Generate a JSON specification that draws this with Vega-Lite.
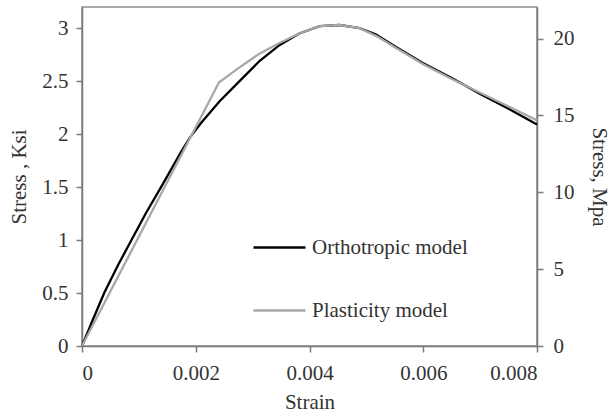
{
  "$schema": "https://vega.github.io/schema/vega-lite/v6.json",
  "width": 455,
  "height": 339,
  "autosize": "none",
  "padding": {"left": 82, "top": 7, "right": 76, "bottom": 69},
  "background": "white",
  "config": {
    "view": {"stroke": "#8c8c8c", "strokeWidth": 1.5},
    "font": "Liberation Serif",
    "axis": {
      "grid": false,
      "domainColor": "#7a7a7a",
      "domainWidth": 1.5,
      "tickColor": "#7a7a7a",
      "tickWidth": 1.5,
      "tickSize": 6,
      "labelFont": "Liberation Serif",
      "labelFontSize": 21,
      "labelColor": "#333",
      "titleFont": "Liberation Serif",
      "titleFontSize": 21,
      "titleFontWeight": "normal",
      "titleColor": "#333"
    }
  },
  "data": {
    "values": [
      {"strain": 0, "stress": 0, "model": "Orthotropic model"},
      {"strain": 0.0002, "stress": 0.26, "model": "Orthotropic model"},
      {"strain": 0.00039, "stress": 0.5, "model": "Orthotropic model"},
      {"strain": 0.00063, "stress": 0.76, "model": "Orthotropic model"},
      {"strain": 0.00087, "stress": 1.0, "model": "Orthotropic model"},
      {"strain": 0.00113, "stress": 1.26, "model": "Orthotropic model"},
      {"strain": 0.00139, "stress": 1.5, "model": "Orthotropic model"},
      {"strain": 0.00174, "stress": 1.83, "model": "Orthotropic model"},
      {"strain": 0.0019, "stress": 1.97, "model": "Orthotropic model"},
      {"strain": 0.0021, "stress": 2.11, "model": "Orthotropic model"},
      {"strain": 0.00242, "stress": 2.31, "model": "Orthotropic model"},
      {"strain": 0.00277, "stress": 2.5, "model": "Orthotropic model"},
      {"strain": 0.00312, "stress": 2.69, "model": "Orthotropic model"},
      {"strain": 0.00347, "stress": 2.84, "model": "Orthotropic model"},
      {"strain": 0.00382, "stress": 2.95, "model": "Orthotropic model"},
      {"strain": 0.00418, "stress": 3.02, "model": "Orthotropic model"},
      {"strain": 0.00453, "stress": 3.03, "model": "Orthotropic model"},
      {"strain": 0.00488, "stress": 3.0, "model": "Orthotropic model"},
      {"strain": 0.00517, "stress": 2.94, "model": "Orthotropic model"},
      {"strain": 0.0055, "stress": 2.83, "model": "Orthotropic model"},
      {"strain": 0.006, "stress": 2.67, "model": "Orthotropic model"},
      {"strain": 0.0065, "stress": 2.53, "model": "Orthotropic model"},
      {"strain": 0.007, "stress": 2.38, "model": "Orthotropic model"},
      {"strain": 0.0075, "stress": 2.24, "model": "Orthotropic model"},
      {"strain": 0.008, "stress": 2.09, "model": "Orthotropic model"},
      {"strain": 0, "stress": 0, "model": "Plasticity model"},
      {"strain": 0.00241, "stress": 2.49, "model": "Plasticity model"},
      {"strain": 0.00277, "stress": 2.63, "model": "Plasticity model"},
      {"strain": 0.00312, "stress": 2.76, "model": "Plasticity model"},
      {"strain": 0.00347, "stress": 2.86, "model": "Plasticity model"},
      {"strain": 0.00382, "stress": 2.95, "model": "Plasticity model"},
      {"strain": 0.00418, "stress": 3.02, "model": "Plasticity model"},
      {"strain": 0.00453, "stress": 3.03, "model": "Plasticity model"},
      {"strain": 0.00488, "stress": 3.0, "model": "Plasticity model"},
      {"strain": 0.0052, "stress": 2.92, "model": "Plasticity model"},
      {"strain": 0.0055, "stress": 2.82, "model": "Plasticity model"},
      {"strain": 0.006, "stress": 2.66, "model": "Plasticity model"},
      {"strain": 0.0065, "stress": 2.52, "model": "Plasticity model"},
      {"strain": 0.007, "stress": 2.39, "model": "Plasticity model"},
      {"strain": 0.0075, "stress": 2.26, "model": "Plasticity model"},
      {"strain": 0.008, "stress": 2.13, "model": "Plasticity model"}
    ]
  },
  "layer": [
    {
      "mark": {"type": "line", "strokeWidth": 2.3},
      "encoding": {
        "x": {
          "field": "strain", "type": "quantitative",
          "scale": {"domain": [0, 0.008], "nice": false},
          "axis": {"values": [0, 0.002, 0.004, 0.006, 0.008], "format": "~g", "title": "Strain", "labelPadding": 10, "titlePadding": 8}
        },
        "y": {
          "field": "stress", "type": "quantitative",
          "scale": {"domain": [0, 3.2], "nice": false},
          "axis": {"values": [0, 0.5, 1, 1.5, 2, 2.5, 3], "format": "~g", "title": "Stress , Ksi", "labelPadding": 8, "titlePadding": 12}
        },
        "color": {
          "field": "model", "type": "nominal",
          "scale": {"domain": ["Orthotropic model", "Plasticity model"], "range": ["#000000", "#a8a8a8"]},
          "legend": {
            "title": null,
            "orient": "none",
            "legendX": 170,
            "legendY": 213,
            "symbolType": "stroke",
            "symbolSize": 2704,
            "symbolStrokeWidth": 2.5,
            "labelFont": "Liberation Serif",
            "labelFontSize": 21,
            "labelColor": "#333",
            "labelOffset": 5,
            "rowPadding": 25
          }
        }
      }
    },
    {
      "mark": {"type": "line", "opacity": 0},
      "encoding": {
        "x": {"field": "strain", "type": "quantitative", "scale": {"domain": [0, 0.008], "nice": false}},
        "y": {
          "field": "stress", "type": "quantitative",
          "scale": {"domain": [0, 22.06], "nice": false},
          "axis": {"orient": "right", "values": [0, 5, 10, 15, 20], "title": "Stress, Mpa", "labelPadding": 10, "titlePadding": 14}
        }
      }
    }
  ],
  "resolve": {"scale": {"y": "independent"}}
}
